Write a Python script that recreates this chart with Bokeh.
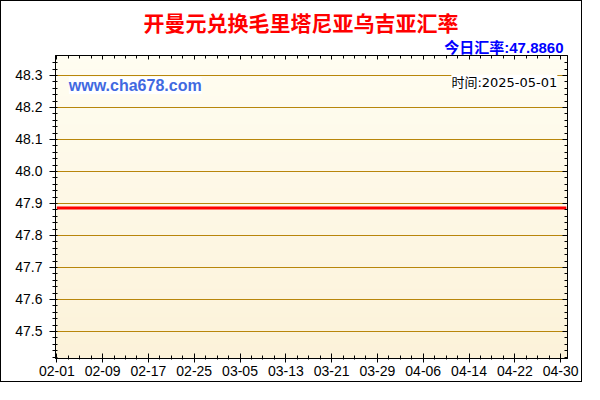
import numpy as np
import pandas as pd
from bokeh.plotting import figure
from bokeh.models import (Range1d, FixedTicker, DatetimeTickFormatter, PrintfTickFormatter,
                          LinearAxis, DatetimeAxis, Title, Label)
from bokeh.embed import file_html
from bokeh.resources import INLINE

# ---------------- data ----------------
title_text = "开曼元兑换毛里塔尼亚乌吉亚汇率"
rate_text = "今日汇率:47.8860"
time_text = "时间:2025-05-01"
site_text = "www.cha678.com"

dates = ["2025-02-01", "2025-05-01"]
rates = [47.886, 47.886]

year = "2025"
x_tick_labels = ["02-01", "02-09", "02-17", "02-25", "03-05", "03-13",
                 "03-21", "03-29", "04-06", "04-14", "04-22", "04-30"]
y_ticks = [47.5, 47.6, 47.7, 47.8, 47.9, 48.0, 48.1, 48.2, 48.3]

# ---------------- helpers ----------------
DAY = 86400000.0


def ms(s):
    return pd.Timestamp(s).value / 1e6


x_major = [ms(f"{year}-{t}") for t in x_tick_labels]
x_minor = [float(v) for v in np.arange(x_major[0], ms(dates[-1]) + 1, 2 * DAY)]
y_minor = [float(v) for v in np.round(np.arange(47.42, 48.36, 0.02), 2)]

x_start = ms(dates[0]) - 0.23 * DAY
x_end = ms(dates[-1]) + 0.2 * DAY
y_start, y_end = 47.4156, 48.3625

LAT = "'Liberation Sans', 'Noto Sans CJK SC'"

p = figure(width=582, height=382,
           x_range=Range1d(x_start, x_end), y_range=Range1d(y_start, y_end),
           x_axis_type="datetime", output_backend="svg", toolbar_location=None,
           min_border_left=54, min_border_right=16, min_border_top=54, min_border_bottom=25,
           border_fill_color="white", outline_line_color="black")
p.styles = {"border": "1px solid black"}

# background gradient (decoration)
n = 256
t = np.linspace(0.0, 1.0, n)
top = np.array([255, 253, 241], dtype=float)
bot = np.array([252, 242, 217], dtype=float)
img = np.zeros((n, 1, 4), dtype=np.uint8)
for i in range(3):
    img[:, 0, i] = np.round(bot[i] + (top[i] - bot[i]) * t).astype(np.uint8)
img[:, 0, 3] = 255
p.image_rgba(image=[img.view(np.uint32).reshape(n, 1)], x=x_start, y=y_start,
             dw=x_end - x_start, dh=y_end - y_start, level="image")

# grid
p.xgrid.visible = False
p.ygrid.ticker = FixedTicker(ticks=y_ticks)
p.ygrid.grid_line_color = "#B8860B"
p.ygrid.grid_line_width = 1

# data line
p.line(x=pd.to_datetime(dates), y=rates, line_color="#FF0000", line_width=3)

# bottom axis
xa = p.xaxis[0]
xa.ticker = FixedTicker(ticks=x_major, minor_ticks=x_minor)
xa.formatter = DatetimeTickFormatter(days="%m-%d", months="%m-%d", hours="%m-%d",
                                     years="%m-%d")
xa.major_label_text_font = "Liberation Sans"
xa.major_label_text_font_size = "14px"
xa.major_label_text_color = "black"
xa.major_label_standoff = 3
xa.axis_line_color = "black"
xa.major_tick_line_color = "black"
xa.minor_tick_line_color = "black"
xa.major_tick_in = 5
xa.major_tick_out = 4
xa.minor_tick_in = 3
xa.minor_tick_out = 1

# left axis
ya = p.yaxis[0]
ya.ticker = FixedTicker(ticks=y_ticks, minor_ticks=y_minor)
ya.formatter = PrintfTickFormatter(format="%.1f")
ya.major_label_text_font = "Liberation Sans"
ya.major_label_text_font_size = "14px"
ya.major_label_text_color = "black"
ya.major_label_standoff = 7
ya.axis_line_color = "black"
ya.major_tick_line_color = "black"
ya.minor_tick_line_color = "black"
ya.major_tick_in = 1
ya.major_tick_out = 6
ya.minor_tick_in = 2
ya.minor_tick_out = 3

# right axis (ticks only)
ra = LinearAxis(ticker=FixedTicker(ticks=y_ticks, minor_ticks=y_minor),
                major_label_text_font_size="1px", major_label_text_color=None,
                major_label_standoff=0,
                major_tick_in=5, major_tick_out=0, minor_tick_in=3, minor_tick_out=0,
                axis_line_color="black", major_tick_line_color="black",
                minor_tick_line_color="black")
p.add_layout(ra, "right")

# top axis (ticks only)
ta = DatetimeAxis(ticker=FixedTicker(ticks=x_major, minor_ticks=x_minor),
                  major_label_text_font_size="1px", major_label_text_color=None,
                  major_label_standoff=10,
                  major_tick_in=4, major_tick_out=0, minor_tick_in=3, minor_tick_out=0,
                  axis_line_color="black", major_tick_line_color="black",
                  minor_tick_line_color="black")
p.add_layout(ta, "above")

# subtitle: today's rate
p.add_layout(Title(text=rate_text, align="right", offset=4, standoff=0,
                   text_color="#0000FF", text_font_size="15px", text_font_style="bold",
                   text_font=LAT), "above")

# main title
p.title.text = title_text
p.title.align = "left"
p.title.offset = 88
p.title.standoff = 0
p.title.text_color = "#FF0000"
p.title.text_font_size = "21px"
p.title.text_font_style = "bold"
p.title.text_font = "Noto Sans CJK SC"

# in-plot labels
p.add_layout(Label(x=ms(dates[0]) + 2.1 * DAY, y=48.269, text=site_text,
                   text_baseline="middle", text_align="left",
                   text_color="#4169E1", text_font_size="16px", text_font_style="bold",
                   text_font="Liberation Sans", background_fill_color="white"))
p.add_layout(Label(x=ms(dates[-1]) - 1.58 * DAY, y=48.279, text=time_text,
                   text_baseline="middle", text_align="right",
                   text_color="black", text_font_size="13px",
                   text_font="'DejaVu Sans', 'Noto Sans CJK SC'",
                   background_fill_color="white"))

open("out.html", "w").write(file_html(p, INLINE))
